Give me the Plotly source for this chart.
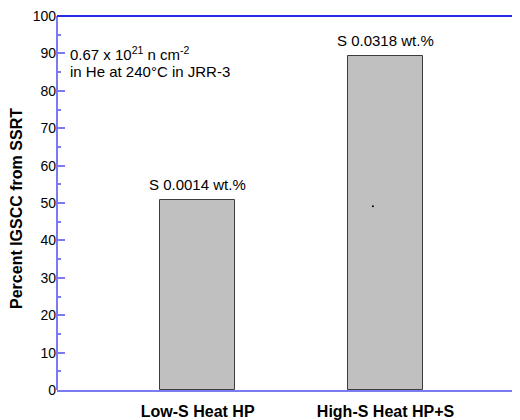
import plotly.graph_objects as go

categories = ["Low-S Heat HP", "High-S Heat HP+S"]
igscc_percent = [50.8, 89.2]
sulfur_labels = ["S 0.0014 wt.%", "S 0.0318 wt.%"]
y_ticks = [0, 10, 20, 30, 40, 50, 60, 70, 80, 90, 100]
stray_point_x = [0.933]
stray_point_y = [49.1]

xpos = list(range(len(categories)))
FONT = "Liberation Sans, Arial, Helvetica, sans-serif"
AX = "#7a7af2"

# page body has an 8px margin, so the figure is shifted/shrunk to compensate
fig = go.Figure()
fig.add_trace(go.Bar(
    x=xpos, y=igscc_percent, width=0.40,
    marker=dict(color="#c0c0c0", line=dict(color="#3c3c3c", width=1)),
    showlegend=False,
))
fig.add_trace(go.Scatter(
    x=stray_point_x, y=stray_point_y, mode="markers", yaxis="y2",
    marker=dict(size=2, color="black"), showlegend=False,
))

fig.update_layout(
    width=512, height=412,
    margin=dict(l=49, r=0, t=8, b=28, pad=0),
    paper_bgcolor="white", plot_bgcolor="white",
    font=dict(family=FONT, size=14, color="black"),
    xaxis=dict(
        range=[-0.749, 1.716], tickvals=xpos, ticktext=categories,
        ticks="", showgrid=False, zeroline=False,
        showline=True, linecolor=AX, linewidth=2,
        ticklabelstandoff=6,
        tickfont=dict(family=FONT, size=16, color="black", weight="bold"),
    ),
    yaxis=dict(
        range=[0, 100], tickvals=y_ticks, ticks="inside", ticklen=8,
        tickcolor=AX, tickwidth=2, showgrid=False, zeroline=False,
        showline=False, ticklabeloverflow="allow",
        minor=dict(dtick=5, ticks="inside", ticklen=4, tickcolor=AX, tickwidth=2),
        tickfont=dict(family=FONT, size=14, color="black"),
    ),
    yaxis2=dict(
        range=[0, 100], overlaying="y", side="right", tickvals=y_ticks,
        ticks="inside", ticklen=2, tickcolor=AX, tickwidth=2,
        showticklabels=False, showgrid=False, zeroline=False, showline=False,
    ),
    bargap=0,
)

fig.add_shape(type="line", xref="paper", yref="paper", x0=0, x1=0, y0=0, y1=1,
              line=dict(color=AX, width=2))
fig.add_shape(type="line", xref="paper", yref="paper", x0=0, x1=1, y0=1, y1=1,
              line=dict(color="#2a2ae6", width=2))

for xi, yi, lab in zip(xpos, igscc_percent, sulfur_labels):
    fig.add_annotation(text=lab, x=xi, y=yi, xref="x", yref="y",
                       xanchor="center", yanchor="middle", yshift=16,
                       showarrow=False, font=dict(family=FONT, size=15, color="black"))

fig.add_annotation(text="<b>Percent IGSCC from SSRT</b>", textangle=-90,
                   xref="paper", yref="paper", x=(17 - 57) / 463, y=(392 - 210) / 376,
                   xanchor="center", yanchor="middle", showarrow=False,
                   font=dict(family=FONT, size=16, color="black"))
fig.add_annotation(text="0.67 x 10<sup>21</sup> n cm<sup>-2</sup>",
                   xref="paper", yref="paper", x=(68 - 57) / 463, y=(392 - 54) / 376,
                   xanchor="left", yanchor="middle", showarrow=False,
                   font=dict(family=FONT, size=15, color="black"))
fig.add_annotation(text="in He at 240°C in JRR-3",
                   xref="paper", yref="paper", x=(68 - 57) / 463, y=(392 - 72) / 376,
                   xanchor="left", yanchor="middle", showarrow=False,
                   font=dict(family=FONT, size=15, color="black"))

fig.write_html("out.html")
